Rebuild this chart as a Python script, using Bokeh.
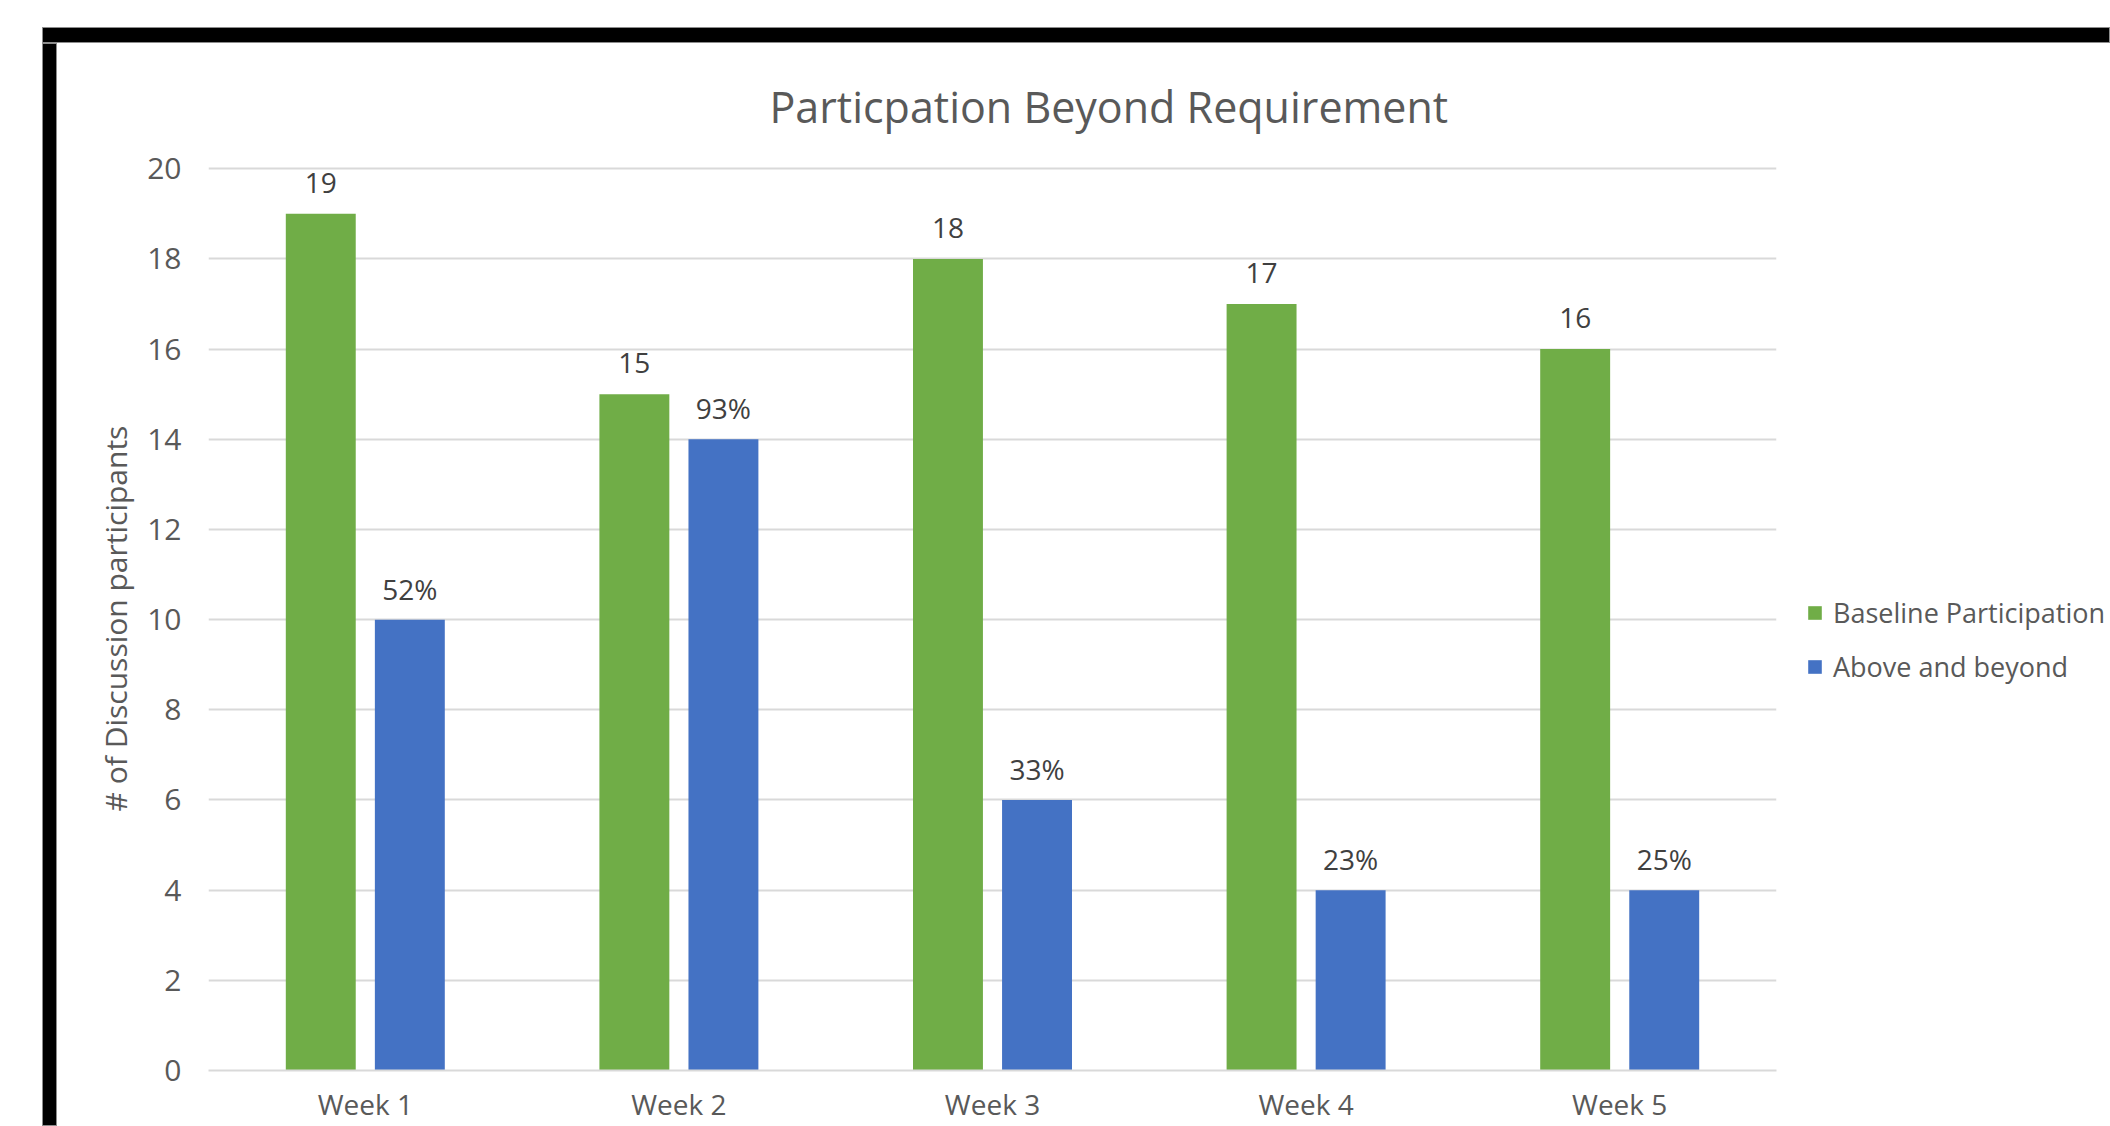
from bokeh.plotting import figure
from bokeh.models import (FactorRange, Range1d, Legend, LegendItem, FixedTicker,
                          ColumnDataSource, Div, Spacer)
from bokeh.layouts import column, row
from bokeh.transform import dodge
from bokeh.core.properties import value
from bokeh.embed import file_html
from bokeh.resources import INLINE

weeks = ["Week 1", "Week 2", "Week 3", "Week 4", "Week 5"]
baseline = [19, 15, 18, 17, 16]
above = [10, 14, 6, 4, 4]
above_pct = ["52%", "93%", "33%", "23%", "25%"]
baseline_lbl = [str(v) for v in baseline]
y_ticks = [0, 2, 4, 6, 8, 10, 12, 14, 16, 18, 20]
series_names = ["Baseline Participation", "Above and beyond"]

FONT = "Open Sans"
TXT = "#595959"
LBL = "#404040"
GREEN = "#70AD47"
BLUE = "#4472C4"
GRID = "#D9D9D9"

src = ColumnDataSource(dict(weeks=weeks, baseline=baseline, above=above,
                            above_pct=above_pct, baseline_lbl=baseline_lbl))

FIG_H = 1083
MAIN_W = 1729
LEG_W = 2110 - 42 - 15 - MAIN_W

p = figure(width=MAIN_W, height=FIG_H, x_range=FactorRange(*weeks), y_range=Range1d(0, 20.05),
           output_backend="svg", toolbar_location=None,
           min_border_left=151, min_border_right=10, min_border_top=122, min_border_bottom=56)
p.margin = 0
p.background_fill_color = "white"
p.border_fill_color = "white"
p.outline_line_color = None

p.title.text = "Particpation Beyond Requirement"
p.title.text_font = FONT
p.title.text_font_size = "43px"
p.title.text_font_style = "normal"
p.title.text_color = TXT
p.title.align = "left"
p.title.offset = 561
p.title.standoff = 62

bw = 0.223
off = 0.142
r1 = p.vbar(x=dodge("weeks", -off, range=p.x_range), top="baseline", width=bw, source=src,
            fill_color=GREEN, line_color=None)
r2 = p.vbar(x=dodge("weeks", off, range=p.x_range), top="above", width=bw, source=src,
            fill_color=BLUE, line_color=None)

p.text(x=dodge("weeks", -off, range=p.x_range), y="baseline", text="baseline_lbl", source=src,
       text_font=value(FONT), text_font_size="28px", text_color=LBL,
       text_align="center", text_baseline="middle", y_offset=-31)
p.text(x=dodge("weeks", off, range=p.x_range), y="above", text="above_pct", source=src,
       text_font=value(FONT), text_font_size="28px", text_color=LBL,
       text_align="center", text_baseline="middle", y_offset=-31)

# y axis
p.yaxis.ticker = FixedTicker(ticks=y_ticks)
p.yaxis.axis_line_color = None
p.yaxis.major_tick_line_color = None
p.yaxis.minor_tick_line_color = None
p.yaxis.major_label_text_font = FONT
p.yaxis.major_label_text_font_size = "30px"
p.yaxis.major_label_text_color = TXT
p.yaxis.major_label_standoff = 21
p.yaxis.axis_label = "# of Discussion participants"
p.yaxis.axis_label_text_font = FONT
p.yaxis.axis_label_text_font_size = "30px"
p.yaxis.axis_label_text_font_style = "normal"
p.yaxis.axis_label_text_color = TXT
p.yaxis.axis_label_standoff = 8

# x axis
p.xaxis.axis_line_color = GRID
p.xaxis.axis_line_width = 2
p.xaxis.major_tick_line_color = None
p.xaxis.minor_tick_line_color = None
p.xaxis.major_label_text_font = FONT
p.xaxis.major_label_text_font_size = "28px"
p.xaxis.major_label_text_color = TXT
p.xaxis.major_label_standoff = 8

p.xgrid.grid_line_color = None
p.ygrid.grid_line_color = GRID
p.ygrid.grid_line_width = 2

# legend panel (separate canvas to the right of the chart); its swatch renderers are hidden
lg = figure(width=LEG_W, height=FIG_H, x_range=FactorRange(*weeks), y_range=Range1d(100, 101),
            output_backend="svg", toolbar_location=None,
            x_axis_location=None, y_axis_location=None, min_border=0)
lg.margin = 0
lg.grid.visible = False
lg.outline_line_color = None
lg.background_fill_color = "white"
lg.border_fill_color = "white"
g1 = lg.vbar(x="weeks", top="baseline", bottom="baseline", width=bw, source=src,
             fill_color=GREEN, line_color=None)
g2 = lg.vbar(x="weeks", top="above", bottom="above", width=bw, source=src,
             fill_color=BLUE, line_color=None)
g1.visible = False
g2.visible = False

legend = Legend(items=[LegendItem(label=series_names[0], renderers=[g1]),
                       LegendItem(label=series_names[1], renderers=[g2])],
                location=(20, 385), orientation="vertical")
legend.click_policy = "none"
legend.inactive_fill_alpha = 0
legend.glyph_width = 17
legend.glyph_height = 17
legend.label_height = 17
legend.label_standoff = 10
legend.spacing = 17
legend.padding = 0
legend.margin = 0
legend.border_line_color = None
legend.background_fill_alpha = 0
legend.label_text_font = FONT
legend.label_text_font_size = "27px"
legend.label_text_color = TXT
lg.add_layout(legend, "center")

# black picture frame (top and left bands)
top_band = Div(text="", width=2068, height=16, margin=0,
               styles={"background-color": "black", "box-shadow": "0 0 0 1px #8c8c8c inset"})
left_band = Div(text="", width=15, height=FIG_H, margin=0,
                styles={"background-color": "black", "box-shadow": "0 0 0 1px #8c8c8c inset"})

page = column(
    Spacer(width=2110, height=27, margin=0),
    row(Spacer(width=42, height=16, margin=0), top_band, spacing=0, margin=0),
    row(Spacer(width=42, height=FIG_H, margin=0), left_band, p, lg, spacing=0, margin=0),
    spacing=0, margin=0,
)

open("out.html", "w").write(file_html(page, INLINE))
